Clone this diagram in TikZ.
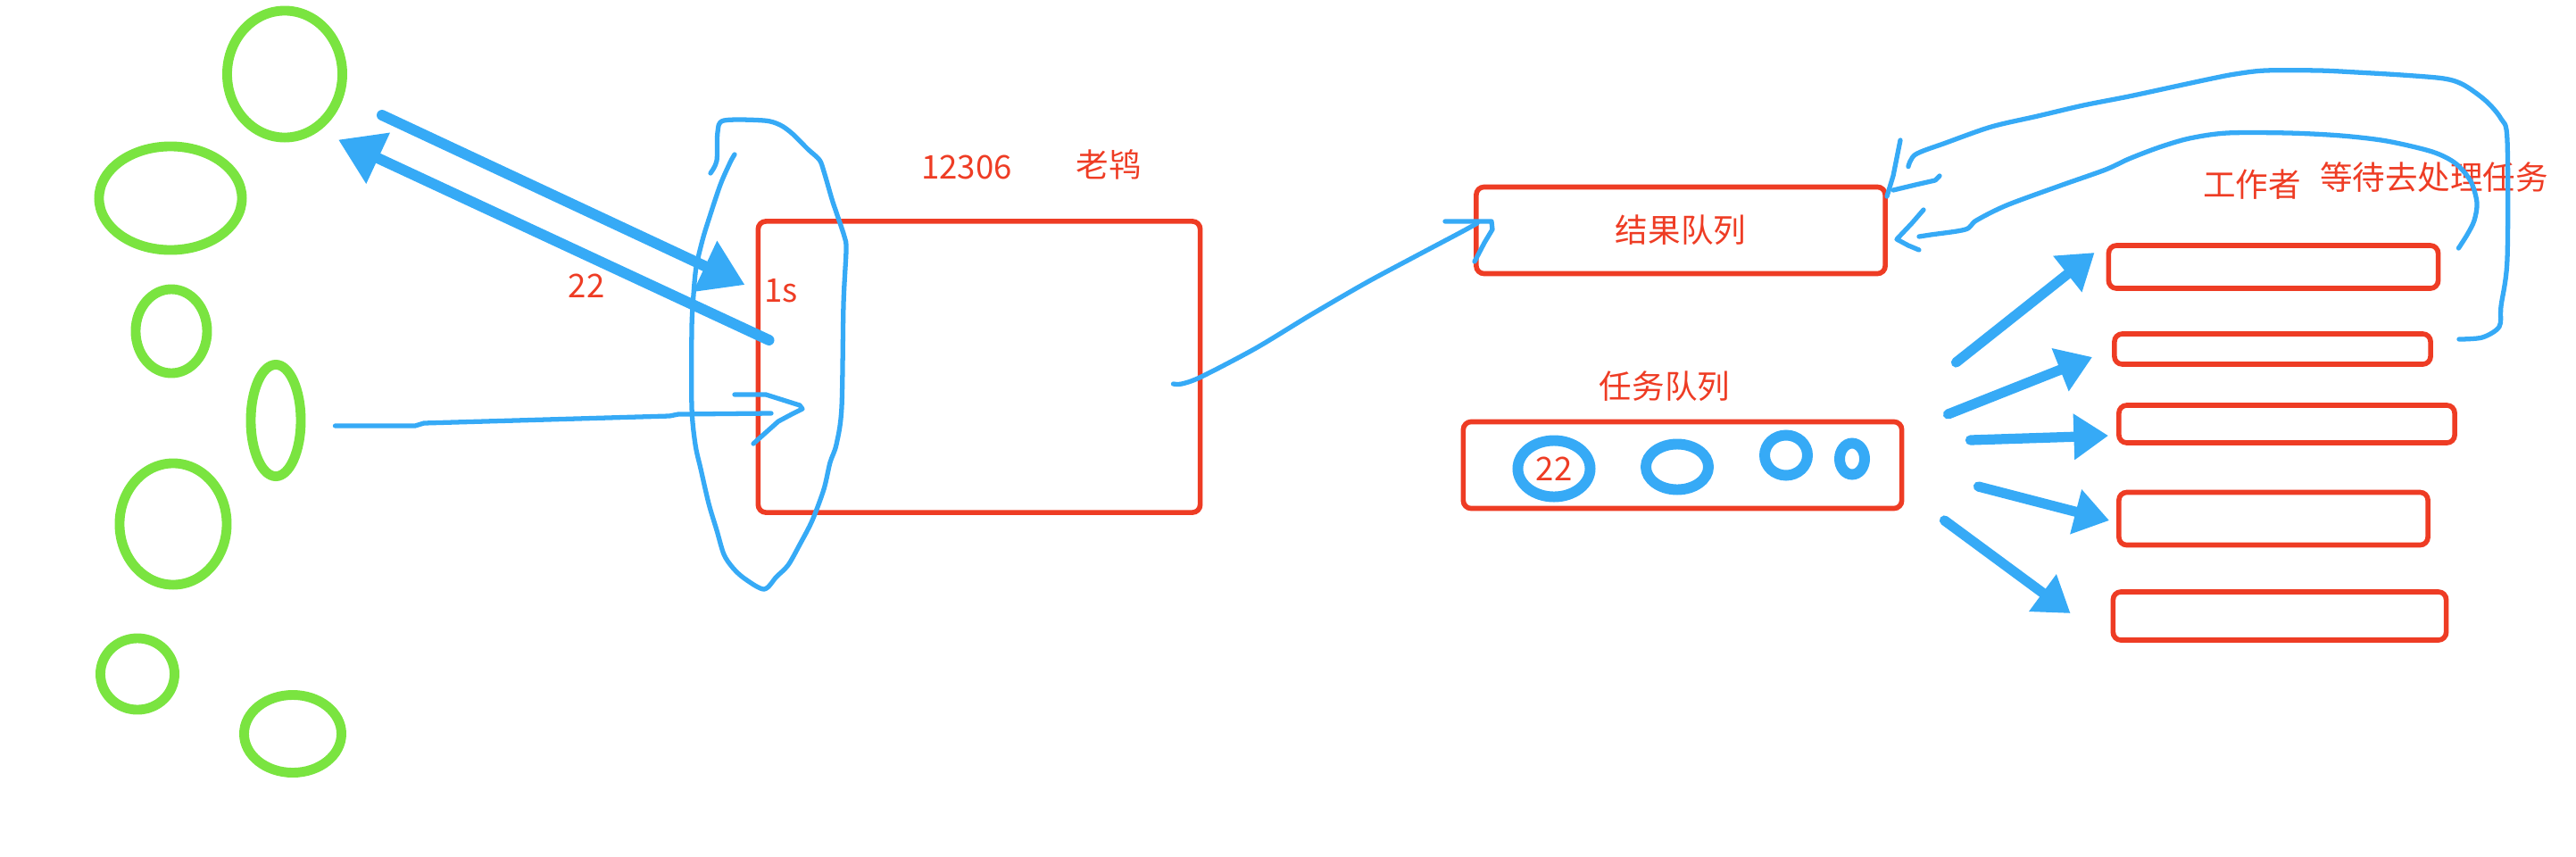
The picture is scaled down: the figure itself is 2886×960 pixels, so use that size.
\documentclass[tikz,border=0pt]{standalone}
\usepackage{fontspec}
\setmainfont{Noto Sans CJK SC}
\usetikzlibrary{calc}
\usetikzlibrary{arrows.meta}
\usetikzlibrary{shapes.geometric}
\definecolor{inkred}{RGB}{238, 60, 36}
\definecolor{inkblue}{RGB}{54, 170, 246}
\definecolor{inkgreen}{RGB}{122, 228, 64}
\tikzset{
  redbox/.style={draw=inkred, line width=1.6pt, rounded corners=2.5pt, inner sep=0pt},
  redtext/.style={text=inkred, font=\fontsize{10.4}{12}\selectfont, inner sep=0pt},
  client/.style={ellipse, draw=inkgreen, line width=3.1pt, inner sep=0pt},
  job/.style={ellipse, draw=inkblue, line width=3.4pt, inner sep=0pt},
  inkline/.style={draw=inkblue, line width=1.5pt, line cap=round, line join=round},
  fatarrow/.style={draw=inkblue, line width=3.4pt, line cap=round, -{Triangle[length=14pt, width=17pt]}},
  fanarrow/.style={draw=inkblue, line width=3.2pt, line cap=round, -{Triangle[length=11pt, width=14pt]}}
}
\begin{document}
\begin{tikzpicture}[x=0.01cm, y=-0.01cm]
    \useasboundingbox (0,0) rectangle (2886,960);
    % Clients
    \node[client, minimum width=1.29cm, minimum height=1.42cm] (c1) at (319, 83) {};
    \node[client, minimum width=1.60cm, minimum height=1.16cm] (c2) at (191,222) {};
    \node[client, minimum width=0.80cm, minimum height=0.94cm] (c3) at (192,371) {};
    \node[client, minimum width=0.56cm, minimum height=1.25cm] (c4) at (309,471) {};
    \node[client, minimum width=1.20cm, minimum height=1.36cm] (c5) at (194,587) {};
    \node[client, minimum width=0.83cm, minimum height=0.80cm] (c6) at (154,755) {};
    \node[client, minimum width=1.09cm, minimum height=0.87cm] (c7) at (328,822) {};
    % Server
    \node[redbox, minimum width=4.95cm, minimum height=3.26cm] (mainbox) at (1097,411) {};
    \node[redtext] (site)  at (1083,187) {12306};
    \node[redtext] (boss)  at (1242,184) {老鸨};
    \node[redtext] (delay) at ( 875,326) {1s};
    \node[redtext] (reqid) at ( 657,320) {22};
    % Queues
    \node[redbox, redtext, minimum width=4.58cm, minimum height=0.97cm] (resultq) at (1883,258) {结果队列};
    \node[redbox, minimum width=4.91cm, minimum height=0.97cm] (taskq) at (1885,521) {};
    \node[redtext] (tasklabel) at (1865,433) {任务队列};
    \node[job, redtext, minimum width=0.81cm, minimum height=0.63cm] (t1) at (1741,525) {22};
    \node[job, minimum width=0.70cm, minimum height=0.51cm] (t2) at (1879,523) {};
    \node[job, minimum width=0.48cm, minimum height=0.45cm] (t3) at (2001,510) {};
    \node[job, minimum width=0.28cm, minimum height=0.35cm] (t4) at (2075,514) {};
    % Workers
    \node[redbox, minimum width=3.69cm, minimum height=0.48cm] (w1) at (2547,299) {};
    \node[redbox, minimum width=3.54cm, minimum height=0.34cm] (w2) at (2546,391) {};
    \node[redbox, minimum width=3.76cm, minimum height=0.42cm] (w3) at (2562,475) {};
    \node[redbox, minimum width=3.46cm, minimum height=0.59cm] (w4) at (2547,581) {};
    \node[redbox, minimum width=3.73cm, minimum height=0.54cm] (w5) at (2554,690) {};
    \node[redtext] (workers) at (2523,207) {工作者};
    \node[redtext] (waiting) at (2727,199) {等待去处理任务};
    % Request and reply
    \coordinate (sendtail) at ($(c1.east)+(39,46)$);
    \coordinate (sendtip)  at ($(mainbox.north west)+(-12,74)$);
    \coordinate (backtail) at ($(mainbox.west)+(15,-30)$);
    \coordinate (backtip)  at ($(c1.south)+(60,-3)$);
    \draw[fatarrow] (sendtail) -- (sendtip);
    \draw[fatarrow] (backtail) -- (backtip);
    % Incoming line with hand drawn tip
    \coordinate (instart) at ($(c4.east)+(33,6)$);
    \coordinate (inend)   at (864,463);
    \draw[inkline] (instart) -- (465,477) -- (475,474) -- (750,466) -- (760,464) -- (inend);
    \draw[inkline] (823,442) -- (858,442) -- (896,454) -- (899,458) -- (887,464) -- (872,472) -- (844,497);
    % Gate
    \draw[inkline] plot[smooth, tension=0.5] coordinates {
        (796,194) (803,180) (804,148) (811,135) (856,135) (874,140) (888,150) (905,167)
        (918,179) (923,192) (932,223) (937,238) (946,265) (948,280) (945,341) (943,456)
        (937,498) (930,518) (923,548) (910,583) (896,610) (883,633) (870,646) (856,660)
        (834,648) (821,636) (811,621) (803,594) (794,564) (785,525) (779,498) (775,456)
        (775,368) (777,330) (780,299) (787,269) (794,246) (807,207) (818,182) (823,173)};
    % Server to result queue
    \coordinate (outstart) at ($(mainbox.east)+(-33,19)$);
    \coordinate (outend)   at ($(resultq.west)+(4,-8)$);
    \draw[inkline] plot[smooth, tension=0.5] coordinates {
        (outstart) (1324,430) (1346,422) (1407,390) (1468,353) (1530,317) (1586,287) (1637,260) (outend)};
    \draw[inkline] (1619,248) -- (1671,248) -- (1672,257) -- (1663,272) -- (1652,293);
    % Task queue to workers
    \foreach \w/\ox/\oy/\tx/\ty in {w1/58/-115/-13/-16, w2/49/-57/-22/9, w3/74/-28/-9/13, w4/83/24/-8/2, w5/45/62/-45/-3}
        \draw[fanarrow] ($(taskq.east)+(\ox,\oy)$) -- ($(\w.west)+(\tx,\ty)$);
    % Workers back to result queue
    \coordinate (loopastart) at ($(w2.east)+(29,-11)$);
    \coordinate (loopaend)   at ($(resultq.north east)+(23,-20)$);
    \draw[inkline] plot[smooth, tension=0.5] coordinates {
        (loopastart) (2781,378) (2800,366) (2802,343) (2809,290) (2809,157) (2802,133) (2785,113)
        (2760,95) (2738,88) (2691,84) (2640,81) (2598,79) (2538,79) (2504,83) (2478,88)
        (2436,97) (2385,108) (2334,118) (2283,130) (2231,142) (2180,160) (2146,173) (loopaend)};
    \draw[inkline] (2129,157) -- (2121,197) -- (2114,220);
    \draw[inkline] (2121,213) -- (2146,207) -- (2168,202) -- (2173,197);
    \coordinate (loopbstart) at ($(w1.east)+(20,-21)$);
    \coordinate (loopbend)   at ($(resultq.east)+(35,7)$);
    \draw[inkline] plot[smooth, tension=0.5] coordinates {
        (loopbstart) (2764,263) (2772,247) (2775,227) (2768,203) (2751,183) (2725,170) (2674,158)
        (2623,152) (2564,149) (2495,149) (2453,155) (2419,165) (2385,178) (2359,190) (2308,208)
        (2248,230) (2214,247) (2202,257) (2163,263) (loopbend)};
    \draw[inkline] (2155,235) -- (2142,250) -- (2125,268) -- (2138,275) -- (2150,280);
\end{tikzpicture}
\end{document}
